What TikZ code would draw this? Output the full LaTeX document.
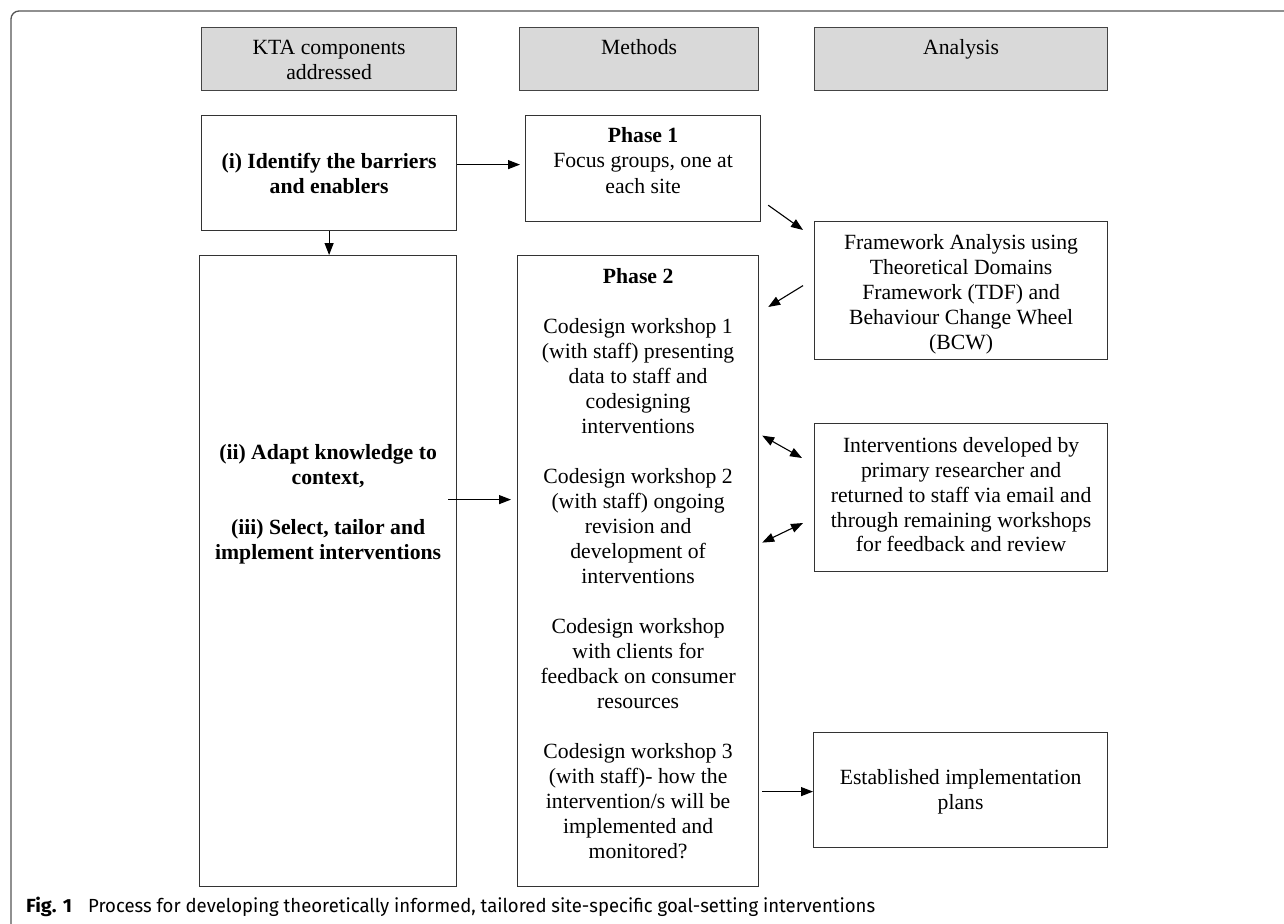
\documentclass[tikz,border=0pt]{standalone}
\usepackage{fontspec}
\usepackage{graphicx}
\setmainfont{Liberation Serif}
\newfontfamily\capfont{Fira Sans}
\usetikzlibrary{arrows.meta,calc}
\definecolor{hdrfill}{HTML}{D9D9D9}
\definecolor{hdrline}{HTML}{444444}
\definecolor{boxline}{HTML}{333333}
\definecolor{framec}{HTML}{555555}
\newsavebox\capboxA
\newsavebox\capboxB
\tikzset{
  hdr/.style={draw=hdrline, fill=hdrfill, line width=1.2pt, rectangle, inner sep=0pt, anchor=north west},
  box/.style={draw=boxline, line width=1.2pt, rectangle, inner sep=0pt, anchor=north west},
  txt/.style={font=\fontsize{21.7}{25}\selectfont, align=center, inner sep=0pt, anchor=center},
  arr/.style={-{Triangle[length=12pt,width=9pt]}, line width=1.1pt},
  darr/.style={{Triangle[length=12pt,width=9pt]}-{Triangle[length=12pt,width=9pt]}, line width=1.1pt}
}
\begin{document}
\sbox\capboxA{\capfont\fontsize{19}{22}\selectfont\bfseries Fig. 1}%
\sbox\capboxB{\capfont\fontsize{19}{22}\selectfont Process for developing theoretically informed, tailored site-specific goal-setting interventions}%
\pgfmathsetmacro\capscA{46/\wd\capboxA}%
\pgfmathsetmacro\capscB{787/\wd\capboxB}%
\begin{tikzpicture}[x=1pt,y=-1pt]
\useasboundingbox (0,0) rectangle (1284,923);
% frame
\draw[framec, line width=1.3pt, rounded corners=8pt] (11,930) -- (11,11) -- (1290,11);
% header boxes
\node[hdr, minimum width=255pt, minimum height=63pt] (hKTA) at (201,27) {};
\node[hdr, minimum width=239pt, minimum height=63pt] (hMeth) at (519,27) {};
\node[hdr, minimum width=293pt, minimum height=63pt] (hAna) at (814,27) {};
\node[txt] (tKTA) at ($(hKTA.north)+(0,35.5)$) {\strut KTA components\\addressed\strut};
\node[txt] (tMeth) at ($(hMeth.north)+(0,23)$) {\strut Methods\strut};
\node[txt] (tAna) at ($(hAna.north)+(0,23)$) {\strut Analysis\strut};
% boxes
\node[box, minimum width=255pt, minimum height=115pt] (bI) at (201,115) {};
\node[box, minimum width=235pt, minimum height=106pt] (bP1) at (525,115) {};
\node[box, minimum width=293pt, minimum height=138pt] (bFw) at (814,221) {};
\node[box, minimum width=257pt, minimum height=631pt] (bL) at (199,255) {};
\node[box, minimum width=241pt, minimum height=631pt] (bP2) at (517,255) {};
\node[box, minimum width=293pt, minimum height=148pt] (bIv) at (814,423) {};
\node[box, minimum width=294pt, minimum height=115pt] (bEst) at (813,732) {};
% texts
\node[txt, font=\fontsize{21.7}{25}\selectfont\bfseries] (tI) at ($(bI.north)+(0,60.5)$)
  {\strut (i) Identify the barriers\\and enablers\strut};
\node[txt, font=\fontsize{21.7}{25.5}\selectfont] (tP1) at ($(bP1.north)+(0,47.5)$)
  {\strut\textbf{Phase 1}\\Focus groups, one at\\each site\strut};
\node[txt] (tFw) at ($(bFw.north)+(0,73)$)
  {\strut Framework Analysis using\\Theoretical Domains\\Framework (TDF) and\\Behaviour Change Wheel\\(BCW)\strut};
\node[txt, font=\fontsize{21.7}{25}\selectfont\bfseries] (tL) at ($(bL.north)+(0,249)$)
  {\strut (ii) Adapt knowledge to\\context,\\[25pt](iii) Select, tailor and\\implement interventions\strut};
\node[txt] (tP2) at ($(bP2.north)+(0,310.5)$)
  {\strut\textbf{Phase 2}\\[25pt]%
   Codesign workshop 1\\(with staff) presenting\\data to staff and\\codesigning\\interventions\\[25pt]%
   Codesign workshop 2\\(with staff) ongoing\\revision and\\development of\\interventions\\[25pt]%
   Codesign workshop\\with clients for\\feedback on consumer\\resources\\[25pt]%
   Codesign workshop 3\\(with staff)- how the\\intervention/s will be\\implemented and\\monitored?\strut};
\node[txt, font=\fontsize{21.7}{24.75}\selectfont] (tIv) at ($(bIv.north)+(0,74.5)$)
  {\strut Interventions developed by\\primary researcher and\\returned to staff via email and\\through remaining workshops\\for feedback and review\strut};
\node[txt] (tEst) at ($(bEst.north)+(0,59.5)$)
  {\strut Established implementation\\plans\strut};
% connectors
\draw[arr] ($(bI.east)+(0,-8.5)$) -- ($(bP1.west)+(-5,-4)$);
\draw[arr] (bI.south) -- (bI.south |- bL.north);
\draw[arr] ($(bL.east)+(-9,-71.5)$) -- ($(bP2.west)+(-6,-71.5)$);
\draw[arr] ($(bP1.south east)+(7,-17)$) -- ($(bFw.north west)+(-11,9)$);
\draw[arr] ($(bFw.west)+(-11,-5)$) -- ($(bP2.north east)+(9,52)$);
\draw[darr] ($(bP2.east)+(3,-135.5)$) -- ($(bIv.north west)+(-12,35)$);
\draw[darr] ($(bP2.east)+(3,-28.5)$) -- ($(bIv.north west)+(-11,100)$);
\draw[arr] ($(bP2.east)+(3,220.5)$) -- ($(bEst.west)+(0,1.5)$);
% caption
\node[inner sep=0pt, anchor=base west] (capA) at (26,912) {\scalebox{\capscA}[1]{\usebox\capboxA}};
\node[inner sep=0pt, anchor=base west] (capB) at (88,912) {\scalebox{\capscB}[1]{\usebox\capboxB}};
\end{tikzpicture}
\end{document}
